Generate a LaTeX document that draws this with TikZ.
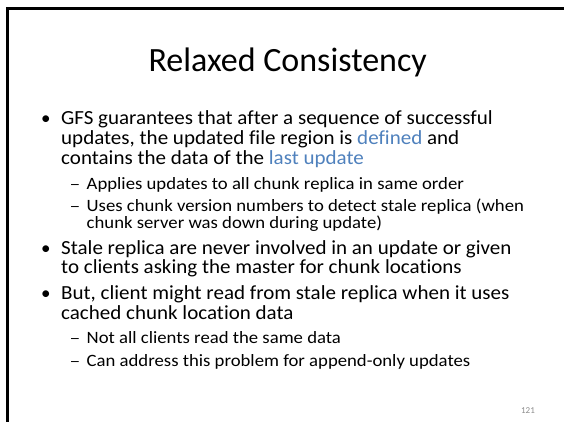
\documentclass[tikz,border=0pt]{standalone}
\usepackage{fontspec}
\setmainfont{Carlito}[Ligatures=NoCommon]
\definecolor{accentblue}{HTML}{4F81BD}
\definecolor{pagegray}{HTML}{8C8C8C}
\newcommand{\mainln}[1]{\scalebox{1.051}[1]{#1}}
\newcommand{\subln}[1]{\scalebox{1.082}[1]{#1}}
\begin{document}
\begin{tikzpicture}[x=1pt,y=1pt,
  titletext/.style={anchor=base,inner sep=0pt,font=\fontsize{34}{40}\selectfont},
  maintext/.style={anchor=base west,inner sep=0pt,font=\fontsize{20}{24}\selectfont},
  subtext/.style={anchor=base west,inner sep=0pt,font=\fontsize{17.3}{20}\selectfont},
  bulletmark/.style={anchor=base west,inner sep=0pt,font=\fontsize{19}{22}\selectfont},
  dashmark/.style={anchor=base west,inner sep=0pt,font=\fontsize{16}{19}\selectfont},
  frameline/.style={line width=3pt,black}]
\useasboundingbox (0,0) rectangle (564,422);
\fill[white] (0,0) rectangle (564,422);
\coordinate (fbot) at (7.5,0);
\coordinate (fcorner) at (7.5,413.2);
\coordinate (fright) at (564,413.2);
\draw[frameline] (fbot) -- (fcorner) -- (fright);
\node[titletext] (title) at (287.7,350.3) {Relaxed Consistency};
% bullet 1
\node[bulletmark] (b1) at (41,297) {•};
\node[maintext] (b1a) at (61,297) {\mainln{GFS guarantees that after a sequence of successful}};
\node[maintext] (b1b) at (61,277.5) {\mainln{updates, the updated file region is \textcolor{accentblue}{defined} and}};
\node[maintext] (b1c) at (61,257.5) {\mainln{contains the data of the \textcolor{accentblue}{last update}}};
\node[dashmark] (d1) at (69.5,232.7) {\scalebox{1.35}[1]{–}};
\node[subtext] (s1) at (86.5,232.7) {\subln{Applies updates to all chunk replica in same order}};
\node[dashmark] (d2) at (69.5,210.3) {\scalebox{1.35}[1]{–}};
\node[subtext] (s2a) at (86.5,210.3) {\subln{Uses chunk version numbers to detect stale replica (when}};
\node[subtext] (s2b) at (86.5,193) {\subln{chunk server was down during update)}};
% bullet 2
\node[bulletmark] (b2) at (41,167.7) {•};
\node[maintext] (b2a) at (61,167.7) {\mainln{Stale replica are never involved in an update or given}};
\node[maintext] (b2b) at (61,148.7) {\mainln{to clients asking the master for chunk locations}};
% bullet 3
\node[bulletmark] (b3) at (41,122) {•};
\node[maintext] (b3a) at (61,122) {\mainln{But, client might read from stale replica when it uses}};
\node[maintext] (b3b) at (61,102.7) {\mainln{cached chunk location data}};
\node[dashmark] (d3) at (69.5,78.7) {\scalebox{1.35}[1]{–}};
\node[subtext] (s3) at (86.5,78.7) {\subln{Not all clients read the same data}};
\node[dashmark] (d4) at (69.5,55.3) {\scalebox{1.35}[1]{–}};
\node[subtext] (s4) at (86.5,55.3) {\subln{Can address this problem for append-only updates}};
\node[anchor=base east,inner sep=0pt,font=\fontsize{9}{11}\selectfont,text=pagegray] (pnum) at (535,8) {121};
\end{tikzpicture}
\end{document}
